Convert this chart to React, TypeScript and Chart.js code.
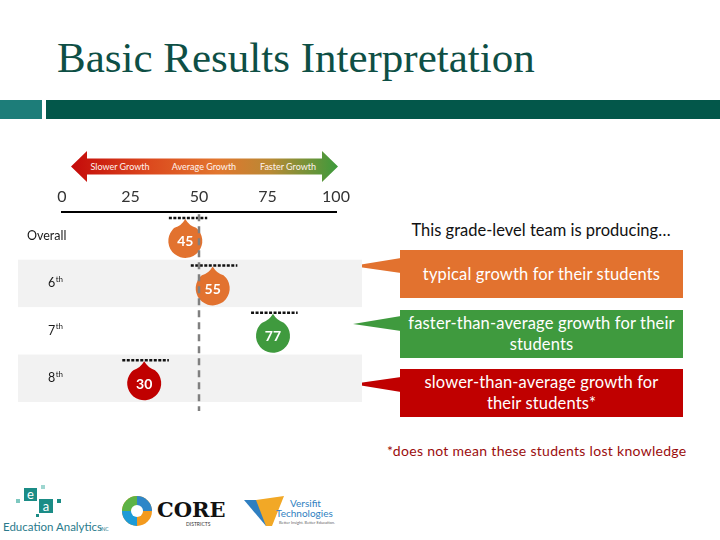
import { useEffect, useRef } from "react";
import { Chart, registerables } from "chart.js";

Chart.register(...registerables);

// ---- data ----
const rowLabels = ["Overall", "6th", "7th", "8th"];
const rowMain = ["Overall", "6", "7", "8"];
const rowSup = ["", "th", "th", "th"];
const growthScores = [45, 55, 77, 30];
const lowerBounds = [39, 47, 69, 22];
const upperBounds = [53, 64, 86, 39];
const tickValues = [0, 25, 50, 75, 100];
const referenceValue = 50;
const scoreColors = ["#E2722F", "#E2722F", "#3F9A3E", "#C00000"];

const SANS = 'Lato, "Open Sans", sans-serif';

const slidePlugin = {
  id: "slideDecor",
  beforeDatasetsDraw(chart: any) {
    const { ctx, chartArea, scales } = chart;
    const y = scales.y;
    const half = (y.getPixelForValue(1) - y.getPixelForValue(0)) / 2;
    ctx.save();
    ctx.fillStyle = "#F2F2F2";
    rowLabels.forEach((_, i) => {
      if (i % 2 === 1) {
        const c = y.getPixelForValue(i);
        ctx.fillRect(chartArea.left - 44, c - half, chartArea.width + 70, half * 2);
      }
    });
    ctx.restore();
  },
  afterDatasetsDraw(chart: any) {
    const { ctx, chartArea, scales } = chart;
    const x = scales.x;
    const y = scales.y;
    const meta = chart.getDatasetMeta(0);
    ctx.save();
    // row labels
    ctx.fillStyle = "#1a1a1a";
    ctx.textBaseline = "middle";
    rowLabels.forEach((_, i) => {
      const cy = y.getPixelForValue(i);
      if (rowSup[i] === "") {
        ctx.font = `12.5px ${SANS}`;
        ctx.textAlign = "left";
        ctx.fillText(rowMain[i], 27, cy);
      } else {
        ctx.font = `12.5px ${SANS}`;
        ctx.textAlign = "left";
        ctx.fillText(rowMain[i], 48, cy);
        const w = ctx.measureText(rowMain[i]).width;
        ctx.font = `8px ${SANS}`;
        ctx.fillText(rowSup[i], 48 + w + 0.5, cy - 4);
      }
    });
    // drops
    const r = 17;
    meta.data.forEach((pt: any, i: number) => {
      const cx = pt.x;
      const cy = pt.y + 5;
      const tipY = cy - 22;
      // dotted range line
      ctx.save();
      ctx.strokeStyle = "#111";
      ctx.lineWidth = 2.5;
      ctx.setLineDash([3, 1.5]);
      ctx.beginPath();
      ctx.moveTo(x.getPixelForValue(lowerBounds[i]), tipY - 1);
      ctx.lineTo(x.getPixelForValue(upperBounds[i]), tipY - 1);
      ctx.stroke();
      ctx.restore();
      // teardrop
      const beta = Math.acos(r / 22);
      ctx.beginPath();
      ctx.moveTo(cx, tipY);
      const rx = cx + r * Math.sin(beta);
      const ry = cy - r * Math.cos(beta);
      ctx.quadraticCurveTo(cx + 4, tipY + 7, rx, ry);
      ctx.arc(cx, cy, r, -Math.PI / 2 + beta, -Math.PI / 2 - beta + Math.PI * 2);
      ctx.quadraticCurveTo(cx - 4, tipY + 7, cx, tipY);
      ctx.closePath();
      ctx.fillStyle = scoreColors[i];
      ctx.fill();
      ctx.fillStyle = "#FFFFFF";
      ctx.font = `bold 14px ${SANS}`;
      ctx.textAlign = "center";
      ctx.textBaseline = "middle";
      ctx.fillText(String(growthScores[i]), cx, cy + 1);
    });
    // reference dashed line
    const rx = x.getPixelForValue(referenceValue);
    ctx.strokeStyle = "#808080";
    ctx.lineWidth = 2.5;
    ctx.setLineDash([7, 5]);
    ctx.beginPath();
    ctx.moveTo(rx, chartArea.top + 2);
    ctx.lineTo(rx, chartArea.bottom + 9);
    ctx.stroke();
    ctx.restore();
  },
};

function GrowthChart() {
  const ref = useRef<HTMLCanvasElement | null>(null);
  useEffect(() => {
    if (!ref.current) return;
    const chart = new Chart(ref.current, {
      type: "scatter",
      data: {
        labels: rowLabels,
        datasets: [
          {
            data: growthScores.map((v, i) => ({ x: v, y: rowLabels[i] })) as any,
            pointRadius: 0,
            pointHoverRadius: 0,
          },
        ],
      },
      options: {
        animation: false,
        responsive: true,
        maintainAspectRatio: false,
        events: [],
        layout: { padding: { left: 62, right: 44, top: 41, bottom: 18 } },
        plugins: { legend: { display: false }, tooltip: { enabled: false } },
        scales: {
          x: {
            type: "linear",
            position: "top",
            min: 0,
            max: 100,
            afterBuildTicks: (s: any) => {
              s.ticks = tickValues.map((v) => ({ value: v }));
            },
            ticks: {
              color: "#333333",
              font: { family: SANS, size: 16 },
              padding: 6,
              maxRotation: 0,
              callback: (v: any) => String(v),
            },
            grid: { display: false, drawTicks: false },
            border: { display: true, color: "#000000", width: 2 },
          },
          y: {
            type: "category",
            labels: rowLabels,
            offset: true,
            display: false,
          },
        },
      } as any,
      plugins: [slidePlugin],
    });
    return () => chart.destroy();
  }, []);
  return (
    <div style={{ position: "absolute", left: 0, top: 140, width: 380, height: 280 }}>
      <canvas ref={ref} />
    </div>
  );
}

export default function App() {
  const box = (top: number, color: string, lines: string[]) => (
    <div
      style={{
        position: "absolute",
        left: 400,
        top,
        width: 283,
        height: 48,
        background: color,
        color: "#fff",
        font: `16.5px ${SANS}`,
        letterSpacing: "0.15px",
        lineHeight: "21px",
        display: "flex",
        flexDirection: "column",
        alignItems: "center",
        justifyContent: "center",
        textAlign: "center",
        whiteSpace: "nowrap",
      }}
    >
      {lines.map((l, i) => (
        <div key={i}>{l}</div>
      ))}
    </div>
  );
  return (
    <div
      style={{
        position: "absolute",
        left: 0,
        top: 0,
        width: 720,
        height: 540,
        overflow: "hidden",
        background: "#fff",
      }}
    >
      <div
        style={{
          position: "absolute",
          left: 57,
          top: 36,
          font: '43px "Liberation Serif", serif',
          lineHeight: "43px",
          color: "#0E4F45",
          whiteSpace: "nowrap",
        }}
      >
        Basic Results Interpretation
      </div>
      <svg width={720} height={540} style={{ position: "absolute", left: 0, top: 0 }}>
        <defs>
          <linearGradient id="growth" x1="71" y1="0" x2="337" y2="0" gradientUnits="userSpaceOnUse">
            <stop offset="0" stopColor="#C40A0A" />
            <stop offset="0.3" stopColor="#DC4A1E" />
            <stop offset="0.55" stopColor="#E2762E" />
            <stop offset="0.75" stopColor="#B98934" />
            <stop offset="1" stopColor="#3E9A3C" />
          </linearGradient>
        </defs>
        <rect x={0} y={100} width={42} height={19} fill="#1D7D79" />
        <rect x={46} y={100} width={674} height={19} fill="#03574A" />
        <polygon
          points="71,166.5 87,151 87,158.5 322,158.5 322,151 338,166.5 322,182 322,174.5 87,174.5 87,182"
          fill="url(#growth)"
        />
        <g fill="#FFF3EE" fontFamily={SANS} fontSize={9} textAnchor="middle">
          <text x={120} y={170}>Slower Growth</text>
          <text x={204} y={170}>Average Growth</text>
          <text x={288} y={170}>Faster Growth</text>
        </g>
        <polygon points="352,266 401,258 401,273" fill="#E2722F" />
        <polygon points="353,324 401,316 401,331" fill="#3F9A3E" />
        <polygon points="352,384 401,377 401,392" fill="#C00000" />
        {/* logos */}
        <g>
          <rect x={16} y={499} width={4} height={4} fill="#7EC8C0" />
          <rect x={24} y={488} width={13} height={13} fill="#1B8C86" />
          <text x={30.5} y={499} fill="#fff" fontFamily={SANS} fontSize={13} textAnchor="middle">e</text>
          <rect x={41} y={485} width={4} height={4} fill="#9ED6D0" />
          <rect x={39} y={499} width={14} height={14} fill="#1B8C86" />
          <text x={46} y={510.5} fill="#fff" fontFamily={SANS} fontSize={13} textAnchor="middle">a</text>
          <rect x={57} y={499} width={4} height={4} fill="#1B8C86" />
          <rect x={36} y={514} width={3} height={3} fill="#1B8C86" />
          <text x={3} y={531} fill="#2A7B8C" fontFamily={SANS} fontSize={11.5}>Education Analytics</text>
          <text x={100} y={531} fill="#2A7B8C" fontFamily={SANS} fontSize={5}>INC</text>
        </g>
        <g>
          <circle cx={137} cy={511} r={15} fill="#F39A1E" />
          <path d="M137,496 A15,15 0 0 1 152,511 L137,511 Z" fill="#2E86C8" />
          <path d="M122,511 A15,15 0 0 1 137,496 L137,511 Z" fill="#5DB346" />
          <path d="M137,526 A15,15 0 0 1 122,511 L137,511 Z" fill="#1D9BD7" />
          <circle cx={137} cy={511} r={6} fill="#fff" />
          <text x={157} y={517} fill="#111" fontFamily='"DejaVu Serif", serif' fontWeight="bold" fontSize={21}>CORE</text>
          <text x={186} y={526} fill="#333" fontFamily={SANS} fontSize={5}>DISTRICTS</text>
        </g>
        <g>
          <path d="M244,500 L258,500 L270,522 L266,526 Z" fill="#2F7FC1" />
          <path d="M256,500 L284,496 L272,526 L266,526 Z" fill="#F2A826" />
          <text x={290} y={507} fill="#2F7FC1" fontFamily={SANS} fontSize={10}>Versifit</text>
          <text x={276} y={517} fill="#2F7FC1" fontFamily={SANS} fontSize={10}>Technologies</text>
          <text x={279} y={524} fill="#666" fontFamily={SANS} fontSize={4}>Better Insight. Better Education.</text>
        </g>
      </svg>
      <GrowthChart />
      <div
        style={{
          position: "absolute",
          left: 380,
          top: 220,
          width: 322,
          textAlign: "center",
          font: `16.5px ${SANS}`,
          color: "#111",
          whiteSpace: "nowrap",
        }}
      >
        This grade-level team is producing…
      </div>
      {box(250, "#E2722F", ["typical growth for their students"])}
      {box(310, "#3F9A3E", ["faster-than-average growth for their", "students"])}
      {box(369, "#C00000", ["slower-than-average growth for", "their students*"])}
      <div
        style={{
          position: "absolute",
          left: 387,
          top: 442,
          font: `14px ${SANS}`,
          color: "#9B0D0D",
          whiteSpace: "nowrap",
          letterSpacing: "0.3px",
        }}
      >
        *does not mean these students lost knowledge
      </div>
    </div>
  );
}
